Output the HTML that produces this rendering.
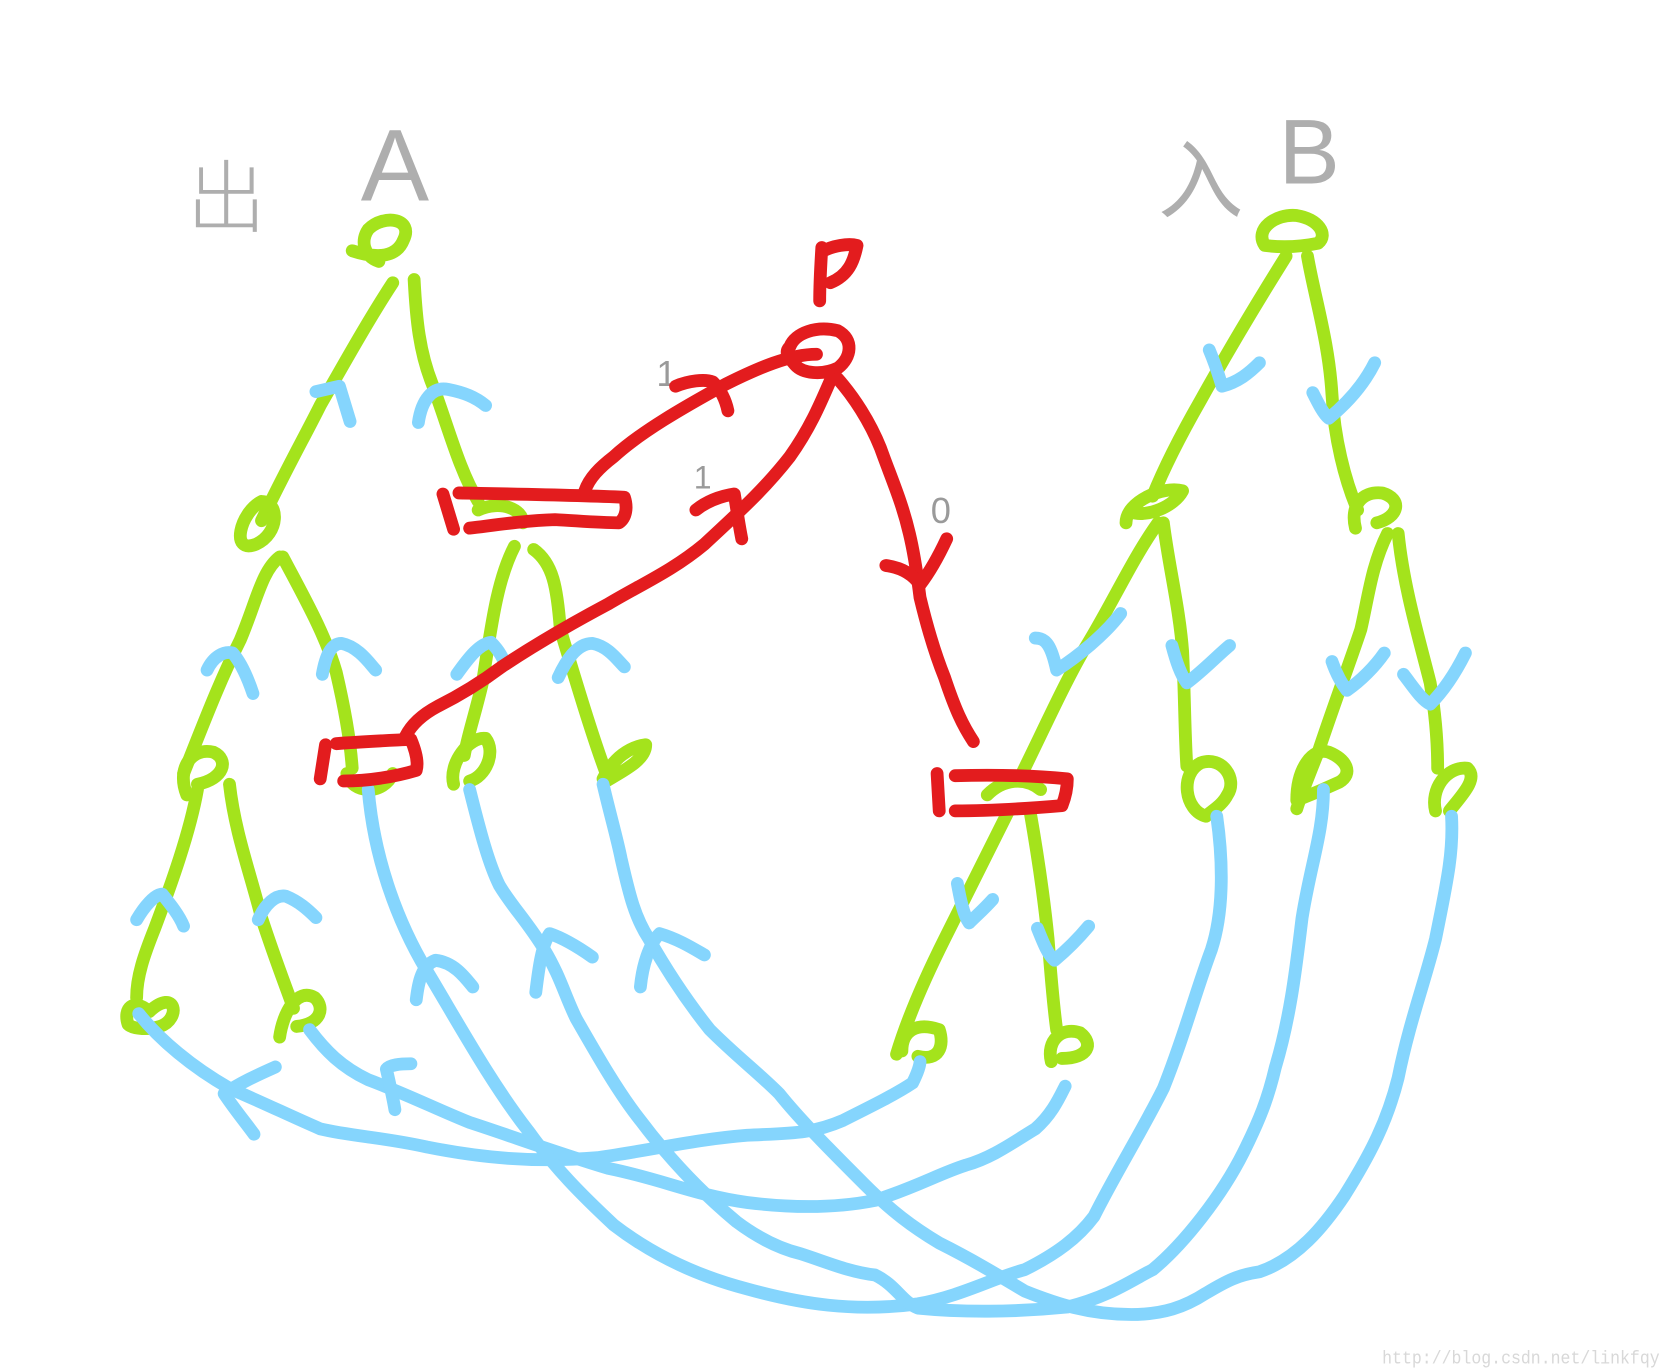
<!DOCTYPE html>
<html><head><meta charset="utf-8">
<style>
html,body{margin:0;padding:0;background:#fff;}
svg{display:block;}
.g{stroke:#a4e31c;fill:none;stroke-width:12;stroke-linecap:round;stroke-linejoin:round;}
.b{stroke:#85d5fd;fill:none;stroke-width:12;stroke-linecap:round;stroke-linejoin:round;}
.r{stroke:#e31c1e;fill:none;stroke-width:12;stroke-linecap:round;stroke-linejoin:round;}
.t{fill:#9a9a9a;font-family:"Liberation Sans","Noto Sans CJK SC",sans-serif;}
</style></head>
<body>
<svg width="1665" height="1370" viewBox="0 0 1560 1284" preserveAspectRatio="none" xmlns="http://www.w3.org/2000/svg">
<rect width="1560" height="1284" fill="#fff"/>

<g>
<text class="t" x="175" y="212" font-size="74" font-weight="300" fill-opacity="0.8" style="font-family:'Noto Sans CJK SC',sans-serif;font-weight:300">出</text>
<text class="t" x="338" y="188" font-size="96" fill-opacity="0.8">A</text>
<text class="t" x="1085" y="198" font-size="80" fill-opacity="0.8">入</text>
<text class="t" x="1198" y="172" font-size="86" fill-opacity="0.8">B</text>
<text class="t" x="615" y="362" font-size="34">1</text>
<text class="t" x="650" y="458" font-size="30">1</text>
<text class="t" x="872" y="490" font-size="34">0</text>
<text x="1295" y="1278" font-size="17" fill="#d8d8d8" font-family="Liberation Mono,monospace" textLength="260" lengthAdjust="spacingAndGlyphs">http://blog.csdn.net/linkfqy</text>
</g>

<g>
<path class="g" d="M330,235 C345,240 370,245 378,225 C388,205 360,200 345,215 C338,225 340,240 355,245"/>
<path class="g" d="M368,265 C345,300 320,345 300,380 C285,410 268,440 245,488"/>
<path class="g" d="M388,262 C390,300 393,330 405,360 C420,400 430,440 448,470"/>
<path class="g" d="M245,470 C225,480 215,520 240,510 C262,500 262,470 245,470"/>
<path class="g" d="M262,522 C245,535 240,565 225,600 C205,640 190,680 172,725"/>
<path class="g" d="M265,522 C285,560 305,595 315,630 C322,660 328,690 330,720"/>
<path class="g" d="M175,745 C165,720 180,700 200,705 C215,712 210,730 185,735"/>
<path class="g" d="M325,725 C330,745 360,745 368,725"/>
<path class="g" d="M448,478 C470,468 490,478 490,490"/>
<path class="g" d="M482,512 C465,545 460,590 452,640 C445,670 438,690 435,708"/>
<path class="g" d="M500,515 C518,528 522,550 525,590 C540,640 555,690 568,725"/>
<path class="g" d="M425,735 C420,715 440,690 455,692 C465,705 455,728 440,732"/>
<path class="g" d="M568,732 C585,722 605,712 605,698 C590,700 575,710 565,730"/>
<path class="g" d="M185,740 C178,780 160,830 145,870 C135,895 128,915 128,935"/>
<path class="g" d="M215,735 C220,780 235,820 245,860 C258,900 268,925 275,945"/>
<path class="g" d="M120,960 C115,945 125,935 140,948 C165,925 170,955 150,962 C140,965 125,965 120,960"/>
<path class="g" d="M262,972 C265,950 278,925 295,935 C305,945 300,960 278,962"/>
</g>

<g>
<path class="g" d="M1185,230 C1175,215 1195,200 1215,202 C1235,205 1245,220 1235,228 C1215,232 1200,232 1185,230"/>
<path class="g" d="M1205,240 C1180,280 1150,330 1125,375 C1105,410 1090,440 1080,465"/>
<path class="g" d="M1225,240 C1232,280 1245,320 1248,370 C1250,410 1260,450 1272,478"/>
<path class="g" d="M1055,490 C1055,470 1090,455 1108,460 C1100,475 1075,485 1060,480"/>
<path class="g" d="M1270,495 C1265,475 1275,460 1295,462 C1315,468 1310,485 1290,490"/>
<path class="g" d="M1085,490 C1060,525 1040,570 1015,610 C995,645 975,690 955,730"/>
<path class="g" d="M1090,490 C1095,530 1105,570 1108,610 C1110,650 1110,690 1112,718"/>
<path class="g" d="M1300,500 C1285,530 1282,560 1275,590 C1265,620 1250,660 1235,705 C1225,730 1218,748 1215,758"/>
<path class="g" d="M1310,500 C1315,550 1330,600 1340,640 C1345,670 1347,700 1347,720"/>
<path class="g" d="M1130,765 C1110,760 1105,725 1125,715 C1145,708 1160,730 1150,745 C1145,755 1135,760 1130,765"/>
<path class="g" d="M1215,750 C1215,720 1230,700 1245,705 C1262,712 1268,725 1255,733 C1240,740 1228,745 1215,750"/>
<path class="g" d="M1345,760 C1340,740 1355,718 1375,720 C1385,730 1370,745 1358,760"/>
<path class="g" d="M925,745 C940,730 960,728 975,740"/>
<path class="g" d="M945,760 C925,800 905,840 885,880 C865,920 850,955 840,988"/>
<path class="g" d="M965,760 C972,800 978,840 982,880 C985,920 988,950 990,965"/>
<path class="g" d="M845,985 C845,965 860,958 880,965 C885,980 880,995 860,990"/>
<path class="g" d="M985,995 C980,975 995,962 1012,968 C1025,978 1020,992 995,992"/>
</g>

<g>
<path class="b" d="M130,950 C150,975 180,1000 215,1020 C250,1035 270,1045 300,1058 C330,1065 360,1066 400,1075 C450,1085 500,1090 560,1085 C610,1078 650,1068 700,1064 C740,1062 760,1063 790,1050 C820,1035 840,1025 855,1015 C860,1005 862,998 862,995"/>
<path class="b" d="M290,965 C305,985 320,1000 345,1012 C380,1025 410,1040 440,1052 C480,1065 520,1080 570,1095 C620,1105 650,1120 700,1127 C740,1132 780,1133 820,1125 C860,1112 880,1100 905,1092 C930,1085 950,1070 970,1058 C985,1045 992,1030 998,1018"/>
<path class="b" d="M345,740 C350,800 370,860 400,910 C430,960 460,1015 495,1060 C520,1095 545,1120 575,1148 C610,1175 650,1195 700,1208 C750,1222 800,1230 860,1222 C900,1215 930,1198 960,1190 C990,1175 1010,1160 1025,1140 C1045,1100 1070,1060 1090,1020 C1110,970 1120,930 1135,890 C1148,850 1145,800 1140,765"/>
<path class="b" d="M440,740 C450,780 458,810 468,830 C480,850 495,865 510,890 C525,915 530,935 540,955 C560,990 580,1025 600,1050 C630,1090 660,1120 690,1145 C710,1160 730,1170 750,1175 C775,1183 795,1192 820,1195 C840,1205 845,1220 860,1226 C900,1230 950,1230 1000,1225 C1040,1215 1060,1200 1080,1190 C1110,1165 1145,1120 1165,1080 C1180,1050 1188,1030 1195,1000 C1210,950 1215,900 1220,860 C1228,810 1240,780 1240,740"/>
<path class="b" d="M565,735 C572,765 578,785 582,805 C590,840 595,860 608,880 C625,910 645,940 665,965 C690,990 710,1005 730,1025 C750,1050 780,1080 810,1110 C835,1135 855,1150 880,1165 C910,1180 935,1195 960,1210 C990,1222 1020,1232 1060,1232 C1090,1232 1110,1225 1130,1212 C1150,1200 1160,1195 1180,1192 C1215,1180 1240,1150 1260,1120 C1285,1080 1300,1050 1310,1010 C1320,960 1335,920 1345,880 C1355,830 1362,800 1360,765"/>
<path class="b" d="M296,367 L318,362 L328,395"/>
<path class="b" d="M392,396 C395,375 405,362 420,365 C435,368 445,372 455,380"/>
<path class="b" d="M194,628 C200,615 210,610 218,612 C225,620 232,635 237,650"/>
<path class="b" d="M302,632 C305,615 310,603 320,603 C335,606 345,620 352,628"/>
<path class="b" d="M428,632 C440,615 450,603 460,602 C468,610 472,618 473,623"/>
<path class="b" d="M523,635 C530,620 540,603 555,603 C570,606 578,618 585,625"/>
<path class="b" d="M128,862 C135,850 145,838 152,838 C160,848 168,858 172,868"/>
<path class="b" d="M242,862 C248,848 258,838 268,840 C280,845 288,852 296,860"/>
<path class="b" d="M390,937 C392,920 395,905 408,900 C425,902 435,915 443,925"/>
<path class="b" d="M502,930 C505,905 508,885 515,875 C530,880 545,890 555,897"/>
<path class="b" d="M600,925 C602,905 608,885 618,875 C635,880 648,888 660,895"/>
<path class="b" d="M258,1000 C240,1008 225,1015 210,1025 C220,1040 230,1052 238,1063"/>
<path class="b" d="M385,997 C375,997 365,998 362,1002 C365,1015 368,1028 370,1040"/>
<path class="b" d="M1133,328 C1138,340 1142,352 1145,362 C1160,358 1170,350 1180,340"/>
<path class="b" d="M1230,368 C1235,378 1240,388 1245,392 C1262,378 1278,360 1288,340"/>
<path class="b" d="M970,598 C980,598 985,605 990,628 C1010,615 1035,595 1050,575"/>
<path class="b" d="M1098,605 C1102,620 1106,632 1112,640 C1128,628 1140,615 1152,605"/>
<path class="b" d="M1248,620 C1252,632 1258,642 1262,647 C1275,638 1288,625 1297,612"/>
<path class="b" d="M1315,632 C1325,645 1332,656 1340,660 C1355,645 1365,628 1373,612"/>
<path class="b" d="M897,828 C900,845 903,858 908,865 C915,858 922,852 930,843"/>
<path class="b" d="M972,870 C978,885 982,895 988,900 C1000,890 1010,880 1020,868"/>
</g>

<g>
<path class="r" d="M415,463 L425,496"/>
<path class="r" d="M430,462 C480,463 540,464 585,466 C588,475 587,485 580,490 C560,490 540,488 520,487 C490,488 465,492 440,495"/>
<path class="r" d="M548,460 C552,448 562,438 575,428 C600,405 640,382 680,360 C710,345 740,332 765,332"/>
<path class="r" d="M633,362 C645,357 660,355 668,358 C675,365 680,375 682,385"/>
<path class="r" d="M740,325 C745,312 765,305 785,310 C800,318 798,335 785,345 C770,352 752,350 745,342 C738,334 735,330 740,325"/>
<path class="r" d="M768,282 C768,265 769,248 770,232 M770,236 C780,230 795,228 803,230 C800,245 795,258 778,265"/>
<path class="r" d="M380,690 C385,680 395,670 410,662 C430,652 450,640 470,625 C500,605 540,582 570,566 C600,548 630,535 660,510 C690,482 715,460 740,428 C760,400 770,375 780,352"/>
<path class="r" d="M652,478 C662,470 675,465 688,463 C690,475 692,490 695,505"/>
<path class="r" d="M305,698 L300,730"/>
<path class="r" d="M315,697 C340,695 365,694 385,693 C390,705 392,715 390,722 C370,728 345,732 322,732"/>
<path class="r" d="M785,355 C800,372 815,395 825,420 C835,448 845,470 852,500 C858,525 860,545 862,560 C868,585 875,610 885,635 C895,665 902,680 912,695"/>
<path class="r" d="M830,530 C845,532 855,538 862,548 C872,535 880,520 887,505"/>
<path class="r" d="M878,725 L880,760"/>
<path class="r" d="M895,727 C930,726 970,727 1000,730 C1000,740 997,750 995,755 C960,758 925,760 895,760"/>
</g>
</svg>
</body></html>
